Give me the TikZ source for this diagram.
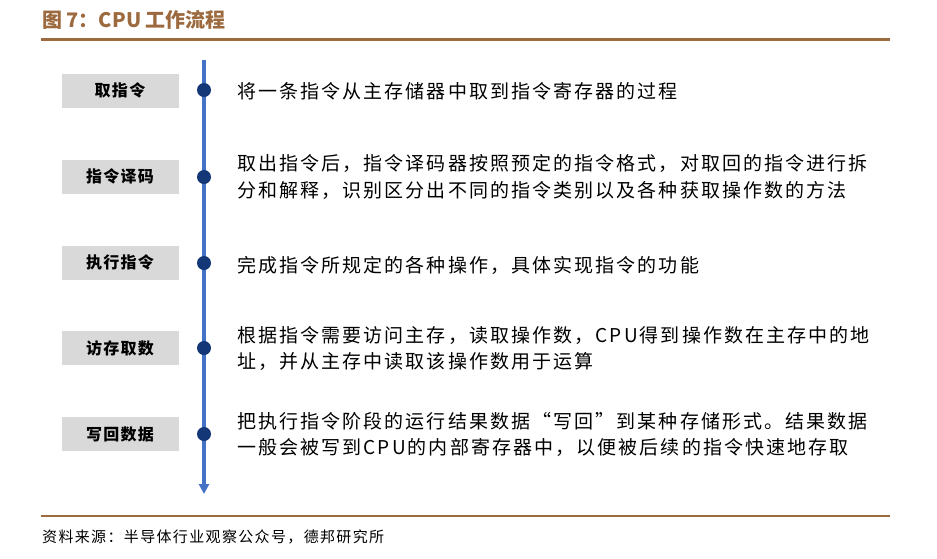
\documentclass[tikz,border=0pt]{standalone}
\usepackage{fontspec}
\usetikzlibrary{arrows.meta}
\newfontfamily\cjk{Noto Sans CJK SC}
\newfontfamily\cjksp[LetterSpace=11]{Noto Sans CJK SC}
\newfontfamily\cjkbox[LetterSpace=8]{Noto Sans CJK SC}
\newfontfamily\cjksrc[LetterSpace=9]{Noto Sans CJK SC}
\definecolor{brownc}{RGB}{156,106,62}
\definecolor{linec}{RGB}{68,114,196}
\definecolor{dotc}{RGB}{20,55,120}
\definecolor{boxc}{RGB}{217,217,217}
\tikzset{
  stepbox/.style={fill=boxc, minimum width=117pt, minimum height=34pt, inner sep=0pt, font=\cjkbox\bfseries\fontsize{16}{16}\selectfont},
  dotn/.style={circle, fill=dotc, minimum size=14pt, inner sep=0pt},
  desc/.style={anchor=west, inner sep=0pt, font=\cjksp\fontsize{19}{19}\selectfont},
  rulel/.style={brownc, line width=3pt},
}
\begin{document}
\begin{tikzpicture}[x=1pt,y=-1pt]
\useasboundingbox (0,0) rectangle (937,558);
\node[anchor=west, inner sep=0pt, text=brownc, font=\cjk\bfseries\fontsize{20}{20}\selectfont] (title) at (42,20) {图 7：CPU 工作流程};
\coordinate (r1a) at (41,39); \coordinate (r1b) at (890,39);
\draw[rulel] (r1a) -- (r1b);
\coordinate (r2a) at (41,516); \coordinate (r2b) at (890,516);
\draw[brownc, line width=2.2pt] (r2a) -- (r2b);
\node[anchor=west, inner sep=0pt, font=\cjksrc\fontsize{15}{15}\selectfont] (src) at (42,537) {资料来源：半导体行业观察公众号，德邦研究所};

\coordinate (top) at (204,60);
\coordinate (bot) at (204,494);
\draw[linec, line width=3.4pt, -{Triangle[length=10pt,width=10pt]}] (top) -- (bot);

\node[stepbox] (b1) at (120,90.5) {取指令};
\node[stepbox] (b2) at (120,176.5) {指令译码};
\node[stepbox] (b3) at (120,262.5) {执行指令};
\node[stepbox] (b4) at (120,348) {访存取数};
\node[stepbox] (b5) at (120,434) {写回数据};

\node[dotn] (d1) at (204,90) {};
\node[dotn] (d2) at (204,177) {};
\node[dotn] (d3) at (204,263) {};
\node[dotn] (d4) at (204,348) {};
\node[dotn] (d5) at (204,434) {};

\node[desc] (t1) at (237,91) {将一条指令从主存储器中取到指令寄存器的过程};
\node[desc] (t2a) at (237,163) {取出指令后，指令译码器按照预定的指令格式，对取回的指令进行拆};
\node[desc] (t2b) at (237,190) {分和解释，识别区分出不同的指令类别以及各种获取操作数的方法};
\node[desc] (t3) at (237,265) {完成指令所规定的各种操作，具体实现指令的功能};
\node[desc] (t4a) at (237,335) {根据指令需要访问主存，读取操作数，CPU得到操作数在主存中的地};
\node[desc] (t4b) at (237,361) {址，并从主存中读取该操作数用于运算};
\node[desc] (t5a) at (237,421) {把执行指令阶段的运行结果数据“写回”到某种存储形式。结果数据};
\node[desc] (t5b) at (237,447) {一般会被写到CPU的内部寄存器中，以便被后续的指令快速地存取};
\end{tikzpicture}
\end{document}
